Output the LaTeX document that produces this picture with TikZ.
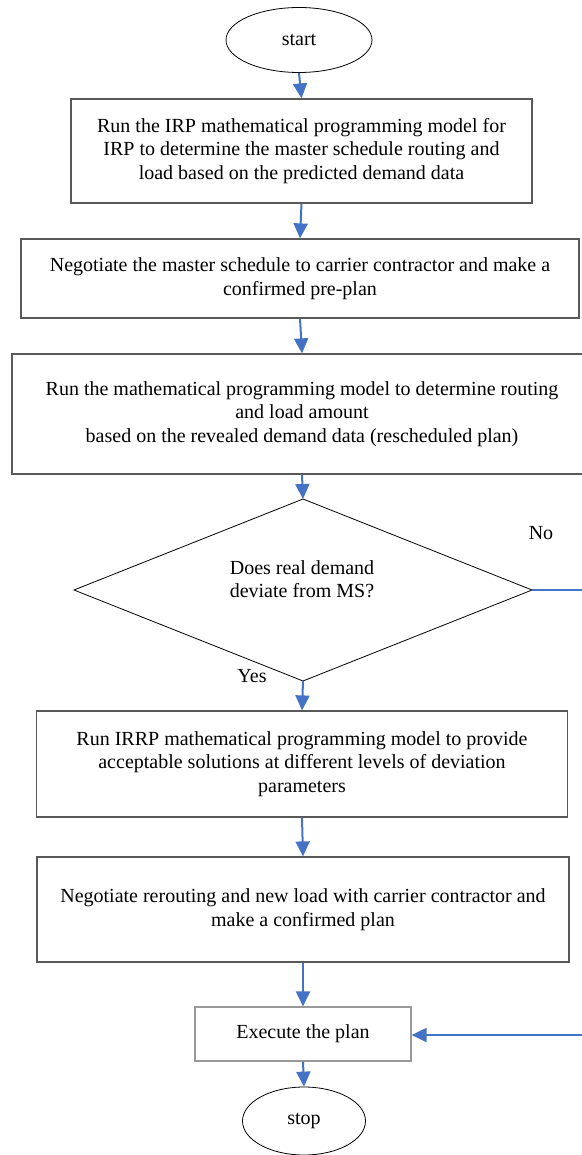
\documentclass[tikz,border=0pt]{standalone}
\usepackage{fontspec}
\setmainfont{Liberation Serif}
\usetikzlibrary{arrows.meta,shapes.geometric}
\definecolor{flowblue}{RGB}{68,114,196}
\begin{document}
\begin{tikzpicture}[x=0.5pt, y=-0.5pt,
		every node/.style={font=\fontsize{10}{11.75}\selectfont},
		stepbox/.style={draw=black!65, line width=0.6pt, align=center, inner sep=2pt},
		term/.style={ellipse, draw, line width=0.4pt, inner sep=0pt},
		decision/.style={diamond, draw, line width=0.4pt, inner sep=0pt, outer sep=0pt},
		flow/.style={draw=flowblue, line width=1pt, -{Triangle[width=7pt,length=7.5pt]}},
		noline/.style={draw=flowblue, line width=1pt}]
		\useasboundingbox (0,0) rectangle (582,1155);
		\node[term, minimum width=73pt, minimum height=32.5pt] (start) at (299,40) {start};
		\node[stepbox, minimum width=230.5pt, minimum height=52pt] (master) at (301.5,151) {Run the IRP mathematical programming model for\\IRP to determine the master schedule routing and\\load based on the predicted demand data};
		\node[stepbox, minimum width=279pt, minimum height=39.5pt] (preplan) at (300,278.5) {Negotiate the master schedule to carrier contractor and make a\\confirmed pre-plan};
		\node[stepbox, minimum width=290pt, minimum height=60pt] (resched) at (302,414) {Run the mathematical programming model to determine routing\\and load amount\\based on the revealed demand data (rescheduled plan)};
		\node[decision, minimum width=229pt, minimum height=91pt] (dev) at (303,590) {};
		\node[align=center] (devtext) at (302,579) {Does real demand\\deviate from MS?};
		\node (no) at (541,533) {No};
		\node (yes) at (252,676) {Yes};
		\node[stepbox, minimum width=265.75pt, minimum height=53pt] (irrp) at (302,764) {Run IRRP mathematical programming model to provide\\acceptable solutions at different levels of deviation\\parameters};
		\node[stepbox, minimum width=266pt, minimum height=52.5pt] (reroute) at (303,909.5) {Negotiate rerouting and new load with carrier contractor and\\make a confirmed plan};
		\node[stepbox, draw=black!40, minimum width=108pt, minimum height=27pt] (exec) at (303,1034) {Execute the plan};
		\node[term, minimum width=61.5pt, minimum height=34pt] (stop) at (304,1121) {stop};
		\coordinate (noend) at (582,590);
		\coordinate (back) at (582,1035);
		\draw[flow] (start.south) -- (master.north);
		\draw[flow] (master.south) -- (preplan.north);
		\draw[flow] (preplan.south) -- (resched.north);
		\draw[flow] (resched.south) -- (dev.north);
		\draw[flow] (dev.south) -- (irrp.north);
		\draw[flow] (irrp.south) -- (reroute.north);
		\draw[flow] (reroute.south) -- (exec.north);
		\draw[flow] (exec.south) -- (stop.north);
		\draw[noline] (dev.east) -- (noend);
		\draw[flow] (back) -- (exec.east |- back);
	\end{tikzpicture}
\end{document}
